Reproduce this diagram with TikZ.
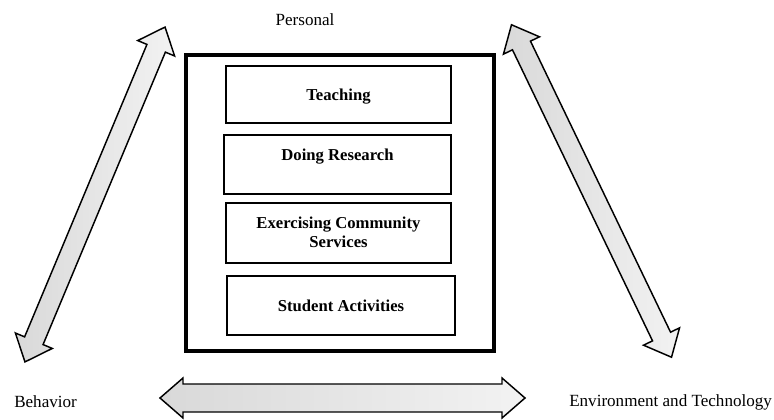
\documentclass[tikz,border=0pt]{standalone}
\usepackage{fontspec}
\setmainfont{Liberation Serif}
\usetikzlibrary{fit}
\newcommand\dblarrow[8]{%
  \begin{scope}[shift={(#2,#3)},rotate=#4]
    \draw[arrowbody] (-#5/2,0) -- (-#5/2+#8,#7/2) -- (-#5/2+#8,#6/2) -- (#5/2-#8,#6/2)
      -- (#5/2-#8,#7/2) -- (#5/2,0) -- (#5/2-#8,-#7/2) -- (#5/2-#8,-#6/2)
      -- (-#5/2+#8,-#6/2) -- (-#5/2+#8,-#7/2) -- cycle;
    \coordinate (#1-a) at (-#5/2,0);
    \coordinate (#1-b) at (#5/2,0);
  \end{scope}}
\begin{document}
\begin{tikzpicture}[x=0.75pt,y=-0.75pt,
  outerbox/.style={draw, line width=2.3pt, inner sep=0pt},
  actbox/.style={draw, line width=1.6pt, inner sep=0pt},
  lbl/.style={font=\fontsize{12.8}{15}\selectfont, inner sep=0pt},
  acttext/.style={font=\bfseries\fontsize{12.5}{14}\selectfont, align=center, inner sep=0pt},
  arrowbody/.style={draw=black, line width=1.1pt, line join=miter,
    left color=gray!30, right color=gray!10}]
\useasboundingbox (0,0) rectangle (774,420);

% outer frame
\node[outerbox, fit={(186,55) (494,351)}] (frame) {};

% activity boxes
\node[actbox, fit={(226,66) (451,123)}] (teach) {};
\node[acttext] (teacht) at ([yshift=-1.5pt]teach.center) {Teaching};
\node[actbox, fit={(224,135) (451,194)}] (research) {};
\node[acttext] (researcht) at (337.5,157) {Doing Research};
\node[actbox, fit={(226,203) (451,263)}] (comm) {};
\node[acttext] (commt) at (338.5,232.5) {Exercising Community\\Services};
\node[actbox, fit={(227,276) (455,335)}] (stud) {};
\node[acttext] (studt) at (stud.center) {Student Activities};

% labels
\node[lbl] (personal) at (305,20) {Personal};
\node[lbl, anchor=west] (behavior) at (14,402) {Behavior};
\node[lbl, anchor=west] (env) at (569,402) {Environment and Technology};

% double arrows
\dblarrow{larr}{95}{194.5}{67.3}{363}{20}{40}{23}
\dblarrow{rarr}{591.5}{191}{-64.3}{369}{20}{40}{23}
\dblarrow{barr}{342.5}{398}{0}{365}{28}{40}{23}
\end{tikzpicture}
\end{document}
